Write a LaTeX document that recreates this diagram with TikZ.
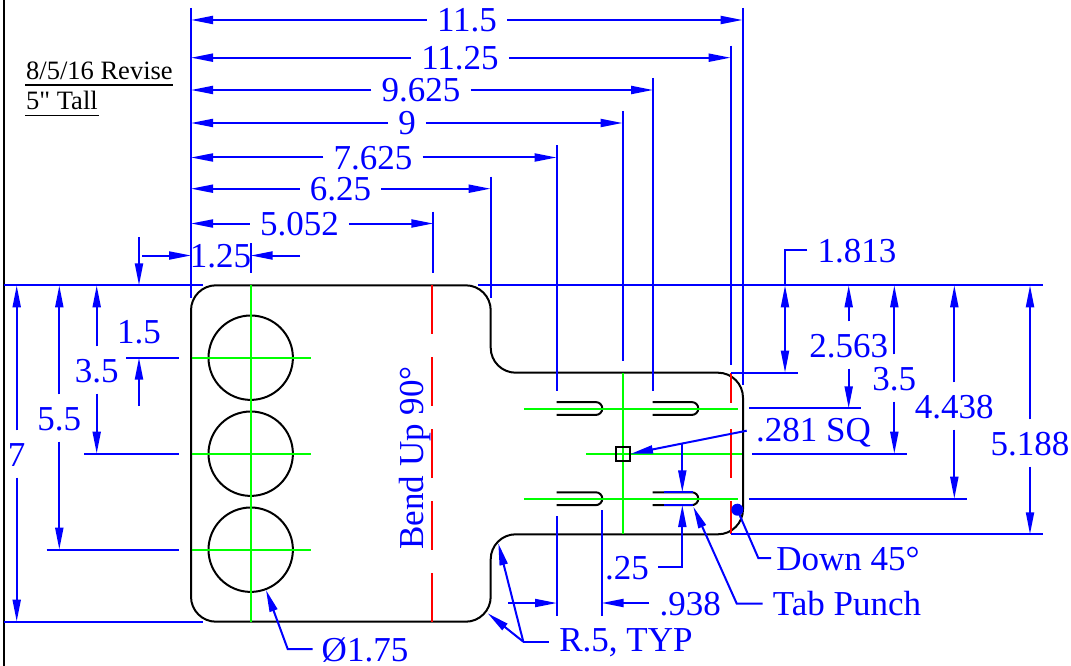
\documentclass[tikz,border=0pt]{standalone}
\usepackage{fontspec}
\setmainfont{Liberation Serif}
\newfontfamily\notefont{Liberation Serif}
\usetikzlibrary{arrows.meta}
\begin{document}
\begin{tikzpicture}[x=1pt,y=-1pt]
\tikzstyle{myline} = [blue, line width = 2 pt]
\tikzstyle{mylabel} = [text = blue, font = \fontsize{35}{35}\selectfont, text height = 24 pt, text depth = 0 pt, inner xsep = 10 pt, inner ysep = 11.5 pt]
\tikzstyle{mynote} = [font = \notefont\fontsize{26.5}{26.5}\selectfont, inner sep = 0 pt, anchor = base west]
\tikzstyle{mypart} = [black, line width = 2 pt]
\tikzstyle{mycenter} = [green, line width = 2 pt]
\tikzstyle{mybend} = [red, line width = 2 pt]
\tikzset{>={Triangle[length=22pt,width=8pt]}}
\useasboundingbox (0,0) rectangle (1071,666);
\coordinate (left) at (191,8);
\coordinate (top) at (600,285.3);
\draw [black, line width = 2.5 pt] (4,0) -- (4,666);
% part outline
\draw [mypart, rounded corners = 25 pt] (191,285.3) -- (490.7,285.3) -- (490.7,372.7) -- (743,372.7) -- (743,534.3) -- (490.7,534.3) -- (490.7,621.7) -- (191,621.7) -- cycle;
\foreach \y in {357.7,453.7,549.7} {
  \node [mypart, draw, circle, minimum size = 84.4 pt, inner sep = 0 pt] (hole\y) at (250.7,\y) {};
  \draw [mycenter] (191.5,\y) -- (311,\y);
}
\draw [mycenter] (250.7,285.3) -- (250.7,621.7);
\foreach \x in {556.7,652.7} \foreach \y in {408.5,498.7} {
  \draw [mypart, rounded corners = 6.4 pt] (\x,\y-6.4) -- (\x+45.6,\y-6.4) -- (\x+45.6,\y+6.4) -- (\x,\y+6.4);
}
\foreach \y in {408.5,498.7} \draw [mycenter] (524,\y) -- (738,\y);
\draw [mycenter] (586,453.7) -- (741.7,453.7);
\draw [mycenter] (623,372.7) -- (623,534.3);
\node [mypart, draw, minimum size = 14 pt, inner sep = 0 pt] (square) at (623,453.7) {};
% bend lines
\foreach \a/\b in {285.3/334,357/406,429/478,501/549.7,573/621.7} \draw [mybend] (432.3,\a) -- (432.3,\b);
\foreach \a/\b in {372.7/403,429/478,501/534.3} \draw [mybend] (730.7,\a) -- (730.7,\b);
% notes
\node [mynote] (revise) at (26,79.5) {8/5/16 Revise};
\node [mynote] (tall) at (26,110) {5" Tall};
\draw [black, line width = 1.6 pt] (25,85.3) -- (173,85.3) (25,115.7) -- (99,115.7);
% top lines
\draw [myline] (4,285.3) -- (203,285.3) (478,285.3) -- (1043,285.3) (4,621.7) -- (203,621.7);
\draw [myline] (left) -- (191,298);
% widths from the left edge
\foreach \name/\val/\cx/\cy/\ex/\eb in {
  wa/11.5/467/20/742.7/385, wb/11.25/460/57.7/730.7/365, wc/9.625/421/90/653/391,
  wd/9/407/123/622.7/360.7, we/7.625/373/157.5/556.7/391, wf/6.25/340.5/188.7/490.7/298,
  wg/5.052/299.4/223.5/433.3/273} {
  \node [mylabel] (\name) at (\cx,\cy) {\val};
  \draw [myline, ->] (\name.west) -- (\name.west -| left);
  \draw [myline, ->] (\name.east) -- (\ex,\cy);
  \draw [myline] (\ex,\cy-12) -- (\ex,\eb);
}
% heights from the top edge
\foreach \name/\val/\cx/\cy/\ey/\xa/\xb in {
  ha/3.5/96.7/370/453.7/84/179, hb/5.5/59.3/418/549.7/46.7/179, hc/7/16.7/454/621.7/4/4,
  hd/2.563/848.7/345/408.4/749/861, he/3.5/894.3/378/453.7/752/906.7,
  hf/4.438/954.3/406/498.7/749/966.7, hg/5.188/1030/443/534.3/731/1043} {
  \node [mylabel] (\name) at (\cx,\cy) {\val};
  \draw [myline, ->] (\name.north) -- (\name.north |- top);
  \draw [myline, ->] (\name.south) -- (\cx,\ey);
  \draw [myline] (\xa,\ey) -- (\xb,\ey);
}
% 1.25
\node [mylabel, inner xsep = 0 pt] (hole) at (220.5,255.5) {1.25};
\draw [myline] (250.7,243) -- (250.7,273);
\draw [myline, ->] (142,255.5) -- (191,255.5);
\draw [myline, ->] (300,255.5) -- (250.7,255.5);
% 1.5
\node [mylabel] (first) at (139,331) {1.5};
\draw [myline] (126,357.7) -- (179,357.7);
\draw [myline, ->] (139,237) -- (139,285.3);
\draw [myline, ->] (139,406) -- (139,357.7);
% 1.813
\node [mylabel] (slot) at (857,250) {1.813};
\draw [myline] (slot.west) -- (785,250) -- (785,285.3);
\draw [myline, <->] (785,285.3) -- (785,372.7);
\draw [myline] (731,372.7) -- (797.7,372.7);
% .281 SQ
\node [mylabel, inner xsep = 8 pt] (sq) at (813.5,429) {.281 SQ};
\draw [myline, ->] (746.7,430.7) -- (square.east);
% .25
\node [mylabel, inner xsep = 9 pt] (tab) at (627,567) {.25};
\draw [myline] (664,492.3) -- (693,492.3) (664,505) -- (693,505);
\draw [myline, ->] (682.3,444) -- (682.3,492.3);
\draw [myline, ->] (tab.east) -- (682.3,567) -- (682.3,505);
% .938
\node [mylabel] (offset) at (690.3,603) {.938};
\draw [myline] (557,516) -- (557,615.7) (601.7,510) -- (601.7,615.7);
\draw [myline, ->] (508,603) -- (557,603);
\draw [myline, ->] (offset.west) -- (601.7,603);
% leaders
\node [mylabel] (radius) at (626,639.5) {R.5, TYP};
\coordinate (bend) at (523.3,641.7);
\draw [myline] (radius.west |- bend) -- (bend);
\draw [myline, ->] (bend) -- (487.7,613.3);
\draw [myline, ->] (bend) -- (498.3,543.3);
\node [mylabel, inner xsep = 9 pt, inner ysep = 0 pt] (dia) at (365,649) {Ø1.75};
\draw [myline, ->] (dia.west) -- (287.7,649) -- (266,590);
\node [circle, fill = blue, minimum size = 12 pt, inner sep = 0 pt] (mydot) at (737.3,509.7) {};
\node [mylabel, inner xsep = 5 pt] (down) at (848,558) {Down 45°};
\draw [myline] (mydot.center) -- (758.3,558) -- (down.west);
\node [mylabel] (punch) at (847,603.5) {Tab Punch};
\draw [myline, ->] (punch.west) -- (736.7,603.5) -- (693.3,506.7);
\node [text = blue, font = \fontsize{35}{35}\selectfont, rotate = 90, anchor = base, inner sep = 0 pt] (up) at (423.3,458) {Bend Up 90°};
\end{tikzpicture}
\end{document}
